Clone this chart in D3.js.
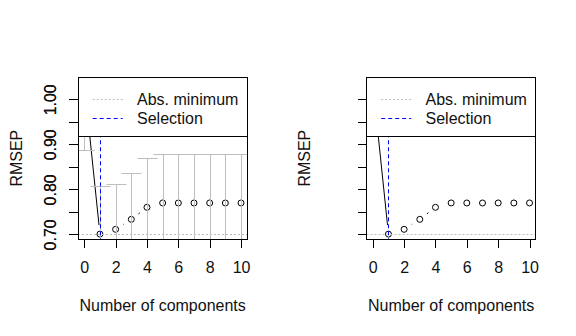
<!DOCTYPE html>
<html>
<head>
<meta charset="utf-8">
<script src="https://cdn.jsdelivr.net/npm/d3@7"></script>
<style>
  html, body { margin: 0; padding: 0; background: #fff; }
  svg { display: block; }
  text { font-family: "Liberation Sans", Arial, sans-serif; fill: #111; }
</style>
</head>
<body>
<svg id="chart" width="576" height="336"></svg>
<script>
// Cross-validated RMSEP by number of components
const components = [0, 1, 2, 3, 4, 5, 6, 7, 8, 9, 10];
const rmsep      = [1.036, 0.7005, 0.7111, 0.7333, 0.7600, 0.7697, 0.7696, 0.7696, 0.7697, 0.7696, 0.7697];
const rmsepSD    = [0.149, 0.106, 0.100, 0.102, 0.109, 0.108, 0.108, 0.108, 0.108, 0.108, 0.108];
const selection  = 1;   // selected number of components
const absBest    = 1;   // index of absolute minimum
const xTicks = [0, 2, 4, 6, 8, 10];
const yTicks = [0.70, 0.75, 0.80, 0.85, 0.90, 0.95, 1.00];
const yTickLabels = [0.70, 0.80, 0.90, 1.00];
const legendItems = ["Abs. minimum", "Selection"];
const panels = [
  { method: "onesigma", left: 78 },
  { method: "randomization", left: 366.5 }
];

const svg = d3.select("#chart");
const W = 169.3, plotTop = 77.3, plotBottom = 239;
const xLim = [-0.4, 10.4];
const yLim = [0.6896, 1.0489];

panels.forEach((p, pi) => {
  const L = p.left, R = L + W;
  const x = d3.scaleLinear().domain(xLim).range([L, R]);
  const y = d3.scaleLinear().domain(yLim).range([plotBottom, plotTop]);
  const g = svg.append("g");

  const clipId = "clip" + pi;
  svg.append("clipPath").attr("id", clipId)
    .append("rect").attr("x", L).attr("y", plotTop).attr("width", W).attr("height", plotBottom - plotTop);
  const plot = g.append("g").attr("clip-path", `url(#${clipId})`);

  // line segments with gaps around the points (type = "b")
  const gap = 9;
  for (let i = 0; i < components.length - 1; i++) {
    const x0 = x(components[i]), y0 = y(rmsep[i]);
    const x1 = x(components[i + 1]), y1 = y(rmsep[i + 1]);
    const d = Math.hypot(x1 - x0, y1 - y0);
    if (d <= 2 * gap) continue;
    const ux = (x1 - x0) / d, uy = (y1 - y0) / d;
    plot.append("line")
      .attr("x1", x0 + ux * gap).attr("y1", y0 + uy * gap)
      .attr("x2", x1 - ux * gap).attr("y2", y1 - uy * gap)
      .attr("stroke", "#000").attr("stroke-width", 1);
  }
  plot.selectAll("circle.pt").data(components).enter().append("circle")
    .attr("class", "pt")
    .attr("cx", d => x(d)).attr("cy", (d, i) => y(rmsep[i]))
    .attr("r", 3).attr("fill", "none").attr("stroke", "#000").attr("stroke-width", 1);

  // one-sigma error bars
  if (p.method === "onesigma") {
    const cap = 10;
    components.forEach((c, i) => {
      const cx = Math.round(x(c)) + 0.5;
      const lo = y(rmsep[i] - rmsepSD[i]), hi = y(rmsep[i] + rmsepSD[i]);
      plot.append("line").attr("x1", cx).attr("x2", cx).attr("y1", lo).attr("y2", hi)
        .attr("stroke", "#bebebe").attr("stroke-width", 1);
      [lo, hi].forEach(yy => {
        plot.append("line").attr("x1", cx - cap).attr("x2", cx + cap)
          .attr("y1", Math.round(yy) + 0.5).attr("y2", Math.round(yy) + 0.5)
          .attr("stroke", "#bebebe").attr("stroke-width", 1);
      });
    });
  }

  // absolute minimum and selection
  plot.append("line")
    .attr("x1", L).attr("x2", R)
    .attr("y1", Math.round(y(rmsep[absBest])) + 0.5).attr("y2", Math.round(y(rmsep[absBest])) + 0.5)
    .attr("stroke", "#bebebe").attr("stroke-dasharray", "2,2");
  plot.append("line")
    .attr("x1", Math.round(x(selection)) + 0.5).attr("x2", Math.round(x(selection)) + 0.5)
    .attr("y1", plotTop).attr("y2", plotBottom)
    .attr("stroke", "#0000ff").attr("stroke-dasharray", "4,3");

  // legend
  const legTop = plotTop, legBottom = 136.3;
  g.append("rect").attr("x", L).attr("y", legTop).attr("width", W).attr("height", legBottom - legTop)
    .attr("fill", "#fff").attr("stroke", "#000").attr("stroke-width", 1)
    .attr("shape-rendering", "crispEdges");
  const legStyles = [
    { color: "#bebebe", dash: "2,2" },
    { color: "#0000ff", dash: "4,3" }
  ];
  legendItems.forEach((t, i) => {
    const ly = Math.round(98.7 + i * 19) + 0.5;
    g.append("line").attr("x1", L + 14.7).attr("x2", L + 44.7).attr("y1", ly).attr("y2", ly)
      .attr("stroke", legStyles[i].color).attr("stroke-dasharray", legStyles[i].dash);
    g.append("text").attr("x", L + 59).attr("y", ly + 5.8)
      .attr("font-size", "16px").text(t);
  });

  // plot frame
  g.append("rect").attr("x", L).attr("y", plotTop).attr("width", W).attr("height", plotBottom - plotTop)
    .attr("fill", "none").attr("stroke", "#000").attr("stroke-width", 1)
    .attr("shape-rendering", "crispEdges");

  // axes
  const xAxis = d3.axisBottom(x).tickValues(xTicks).tickSize(9).tickFormat(d3.format("d"));
  const gx = g.append("g").attr("transform", `translate(0,${plotBottom})`).call(xAxis);
  gx.select(".domain").remove();
  gx.selectAll(".tick line").attr("stroke", "#000").attr("shape-rendering", "crispEdges");
  gx.selectAll(".tick text").attr("y", 272.7 - plotBottom).attr("dy", null)
    .attr("font-size", "16px").attr("font-family", "Liberation Sans, Arial, sans-serif").attr("fill", "#111");

  const yAxis = d3.axisLeft(y).tickValues(yTicks).tickSize(9)
    .tickFormat(d => yTickLabels.some(v => Math.abs(v - d) < 1e-9) ? d3.format(".2f")(d) : "");
  const gy = g.append("g").attr("transform", `translate(${L},0)`).call(yAxis);
  gy.select(".domain").remove();
  gy.selectAll(".tick line").attr("stroke", "#000").attr("shape-rendering", "crispEdges");
  gy.selectAll(".tick text")
    .attr("x", null).attr("dy", null)
    .attr("transform", `translate(${56 - L},0) rotate(-90)`)
    .attr("text-anchor", "middle")
    .attr("font-size", "16px").attr("font-family", "Liberation Sans, Arial, sans-serif").attr("fill", "#111");

  // axis titles
  g.append("text").attr("x", (L + R) / 2).attr("y", 311).attr("text-anchor", "middle")
    .attr("font-size", "16px").text("Number of components");
  g.append("text").attr("transform", `translate(${L - 56.3},${(plotTop + plotBottom) / 2}) rotate(-90)`)
    .attr("text-anchor", "middle").attr("font-size", "16px").text("RMSEP");
});
</script>
</body>
</html>
